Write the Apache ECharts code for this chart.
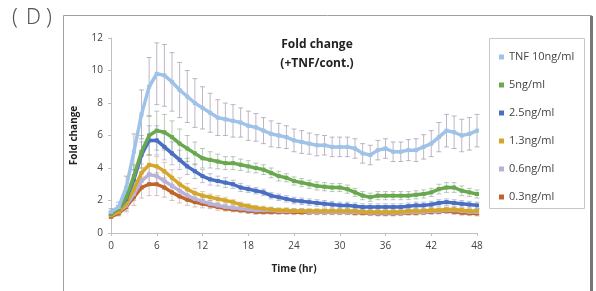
<!DOCTYPE html>
<html><head><meta charset="utf-8">
<script src="https://cdn.jsdelivr.net/npm/echarts@6/dist/echarts.min.js"></script>
<style>html,body{margin:0;padding:0;background:#fff}#c{width:596px;height:291px}</style>
</head><body><div id="c"></div>
<script>
var hours = [];
for (var h = 0; h <= 48; h++) hours.push(h);
var seriesNames = ['TNF 10ng/ml','5ng/ml','2.5ng/ml','1.3ng/ml','0.6ng/ml','0.3ng/ml'];
var tnf10 = [1.3,1.6,2.8,5.0,7.3,9.0,9.8,9.7,9.3,8.8,8.4,8.0,7.7,7.4,7.1,7.0,6.9,6.8,6.6,6.5,6.3,6.1,6.0,5.9,5.7,5.6,5.5,5.4,5.4,5.3,5.3,5.3,5.2,4.9,4.8,5.1,5.2,5.0,5.0,5.1,5.1,5.3,5.5,5.9,6.3,6.2,6.0,6.1,6.3];
var tnf5 = [1.2,1.5,2.2,3.5,5.0,6.0,6.3,6.2,5.9,5.5,5.2,4.9,4.6,4.5,4.4,4.3,4.3,4.2,4.1,4.0,3.9,3.7,3.5,3.4,3.2,3.1,3.0,2.9,2.85,2.8,2.8,2.7,2.5,2.3,2.2,2.3,2.3,2.3,2.3,2.3,2.35,2.4,2.5,2.7,2.8,2.8,2.6,2.5,2.4];
var tnf25 = [1.2,1.5,2.1,3.3,4.8,5.7,5.7,5.3,4.9,4.5,4.1,3.8,3.5,3.3,3.2,3.1,3.0,2.8,2.7,2.6,2.5,2.3,2.2,2.1,2.0,1.95,1.9,1.85,1.8,1.75,1.7,1.7,1.65,1.6,1.6,1.6,1.6,1.6,1.6,1.65,1.7,1.7,1.75,1.85,1.9,1.85,1.8,1.75,1.7];
var tnf13 = [1.1,1.3,1.8,2.7,3.7,4.2,4.1,3.8,3.4,3.0,2.7,2.45,2.3,2.2,2.1,2.0,1.9,1.75,1.65,1.55,1.5,1.45,1.4,1.4,1.35,1.35,1.35,1.35,1.35,1.35,1.35,1.35,1.35,1.3,1.3,1.3,1.3,1.3,1.3,1.35,1.35,1.35,1.4,1.4,1.45,1.45,1.4,1.35,1.35];
var tnf06 = [1.1,1.3,1.7,2.4,3.2,3.6,3.5,3.2,2.9,2.6,2.3,2.1,1.95,1.8,1.7,1.6,1.55,1.5,1.45,1.4,1.4,1.4,1.35,1.35,1.35,1.35,1.3,1.3,1.3,1.3,1.3,1.3,1.3,1.3,1.25,1.25,1.25,1.25,1.25,1.3,1.3,1.3,1.35,1.35,1.4,1.4,1.35,1.3,1.3];
var tnf03 = [1.0,1.2,1.6,2.2,2.8,3.0,3.0,2.8,2.5,2.25,2.05,1.9,1.8,1.7,1.6,1.5,1.45,1.4,1.35,1.3,1.3,1.3,1.3,1.3,1.28,1.28,1.28,1.28,1.28,1.28,1.28,1.28,1.25,1.25,1.22,1.2,1.2,1.2,1.22,1.25,1.25,1.28,1.3,1.32,1.35,1.3,1.25,1.22,1.2];
var err10 = [0.2,0.3,0.7,1.1,1.5,1.8,1.9,1.9,1.8,1.7,1.6,1.5,1.3,1.2,1.1,1.0,1.0,0.9,0.9,0.85,0.8,0.8,0.75,0.7,0.7,0.7,0.65,0.65,0.6,0.6,0.6,0.6,0.6,0.6,0.6,0.6,0.6,0.6,0.6,0.65,0.7,0.75,0.8,0.9,1.0,1.0,1.0,1.0,1.0];
var err5 = [0.1,0.2,0.4,0.7,1.0,1.2,1.2,1.1,1.0,0.9,0.8,0.7,0.6,0.5,0.45,0.4,0.4,0.35,0.35,0.3,0.3,0.3,0.3,0.25,0.25,0.25,0.25,0.25,0.25,0.25,0.25,0.25,0.25,0.25,0.25,0.25,0.25,0.25,0.25,0.25,0.25,0.25,0.25,0.3,0.3,0.3,0.3,0.25,0.25];
var err25 = [0.1,0.2,0.35,0.6,0.8,0.9,0.9,0.8,0.7,0.6,0.5,0.45,0.4,0.35,0.3,0.3,0.25,0.25,0.2,0.2,0.2,0.2,0.2,0.2,0.2,0.2,0.2,0.2,0.2,0.2,0.2,0.2,0.2,0.2,0.2,0.2,0.2,0.2,0.2,0.2,0.2,0.2,0.2,0.2,0.2,0.2,0.2,0.2,0.2];
var err13 = [0.1,0.15,0.3,0.45,0.55,0.6,0.6,0.55,0.5,0.4,0.35,0.3,0.25,0.2,0.2,0.2,0.15,0.15,0.15,0.15,0.15,0.15,0.15,0.15,0.15,0.15,0.15,0.15,0.15,0.15,0.15,0.15,0.15,0.15,0.15,0.15,0.15,0.15,0.15,0.15,0.15,0.15,0.15,0.15,0.15,0.15,0.15,0.15,0.15];
var err06 = [0.1,0.15,0.3,0.4,0.5,0.55,0.55,0.5,0.45,0.4,0.3,0.25,0.2,0.2,0.15,0.15,0.15,0.15,0.15,0.15,0.15,0.15,0.15,0.15,0.15,0.15,0.15,0.15,0.15,0.15,0.15,0.15,0.15,0.15,0.15,0.15,0.15,0.15,0.15,0.15,0.15,0.15,0.15,0.15,0.15,0.15,0.15,0.15,0.15];
var err03 = [0.1,0.15,0.3,0.5,0.65,0.7,0.7,0.6,0.5,0.4,0.35,0.3,0.25,0.2,0.2,0.15,0.15,0.15,0.15,0.15,0.15,0.15,0.15,0.15,0.15,0.15,0.15,0.15,0.15,0.15,0.15,0.15,0.15,0.15,0.15,0.15,0.15,0.15,0.15,0.15,0.15,0.15,0.15,0.15,0.15,0.15,0.15,0.15,0.15];
var xTicks = [0,6,12,18,24,30,36,42,48];
var yTicks = [0,2,4,6,8,10,12];

var colors = ['#9fc3e8','#6aa84f','#4a6fc2','#d4a62a','#b9b2d8','#c0642e'];
var errColors = ['rgba(165,150,175,0.7)','rgba(130,160,130,0.55)','rgba(140,150,190,0.55)','rgba(190,170,120,0.55)','rgba(160,160,190,0.55)','rgba(180,150,140,0.55)'];
var vals = [tnf10,tnf5,tnf25,tnf13,tnf06,tnf03];
var errs = [err10,err5,err25,err13,err06,err03];

var chart = echarts.init(document.getElementById('c'), null, {renderer:'canvas'});
var series = [];
vals.forEach(function(v, i){
  series.push({
    type:'custom', name: seriesNames[i] + '_err', silent:true, z:1,
    data: hours.map(function(h, k){ return [h, v[k] - errs[i][k], v[k] + errs[i][k]]; }),
    renderItem: function(params, api){
      var lo = api.coord([api.value(0), api.value(1)]);
      var hi = api.coord([api.value(0), api.value(2)]);
      var st = {stroke: errColors[i], lineWidth: 1};
      return {type:'group', children:[
        {type:'line', shape:{x1:lo[0],y1:lo[1],x2:hi[0],y2:hi[1]}, style:st},
        {type:'line', shape:{x1:lo[0]-2.5,y1:lo[1],x2:lo[0]+2.5,y2:lo[1]}, style:st},
        {type:'line', shape:{x1:hi[0]-2.5,y1:hi[1],x2:hi[0]+2.5,y2:hi[1]}, style:st}
      ]};
    }
  });
});
vals.forEach(function(v, i){
  series.push({
    type:'line', name: seriesNames[i], z: 5 + (6 - i),
    data: hours.map(function(h, k){ return [h, v[k]]; }),
    symbol:'rect', symbolSize:4, showAllSymbol:true,
    lineStyle:{color: colors[i], width:3.5},
    itemStyle:{color: colors[i]},
    smooth:false
  });
});

chart.setOption({
  animation:false,
  backgroundColor:'#fff',
  grid:{left:111, right:119, top:38, bottom:58},
  graphic:[
    {type:'text', x:12, y:8, style:{text:'(', font:'300 21px "Noto Sans"', fill:'#555'}},
    {type:'text', x:26, y:8, style:{text:'D', font:'300 21px "Noto Sans"', fill:'#555'}},
    {type:'text', x:46, y:8, style:{text:')', font:'300 21px "Noto Sans"', fill:'#555'}},
    {type:'rect', shape:{x:63.5, y:15.5, width:528, height:290}, style:{fill:'none', stroke:'#a0a0a0', lineWidth:1}, z:-1},
    {type:'rect', shape:{x:590, y:16, width:3, height:290}, style:{fill:'#777'}, z:-1},
    {type:'rect', shape:{x:489.5, y:38.5, width:95, height:170}, style:{fill:'#fff', stroke:'#c8c8c8', lineWidth:1}, z:0},
    {type:'text', x:317, y:35, style:{text:'Fold change\n(+TNF/cont.)', font:'bold 12px "Open Sans"', fill:'#222', align:'center', lineHeight:19}}
  ],
  legend:{
    orient:'vertical', left:494, top:46, itemGap:16, itemWidth:5, itemHeight:5, icon:'rect',
    data: seriesNames, textStyle:{fontSize:11, color:'#444', fontFamily:'Open Sans', lineHeight:12},
    selectedMode:false
  },
  xAxis:{
    type:'value', min:0, max:48, interval:6, name:'Time (hr)', nameLocation:'middle', nameGap:31,
    nameTextStyle:{fontWeight:'bold', fontSize:10, color:'#222', fontFamily:'Open Sans'},
    axisLine:{lineStyle:{color:'#c0c0c0'}}, axisTick:{length:3, lineStyle:{color:'#c0c0c0'}},
    axisLabel:{fontSize:10, color:'#444', margin:8, fontFamily:'Open Sans'}, splitLine:{show:false}
  },
  yAxis:{
    type:'value', min:0, max:12, interval:2, name:'Fold change', nameLocation:'middle', nameGap:32,
    nameTextStyle:{fontWeight:'bold', fontSize:10, color:'#222', fontFamily:'Open Sans'},
    axisLine:{show:true, lineStyle:{color:'#c0c0c0'}}, axisTick:{show:true, length:3, lineStyle:{color:'#c0c0c0'}},
    axisLabel:{fontSize:10, color:'#444', margin:8, fontFamily:'Open Sans'}, splitLine:{show:false}
  },
  series: series
});
</script></body></html>
